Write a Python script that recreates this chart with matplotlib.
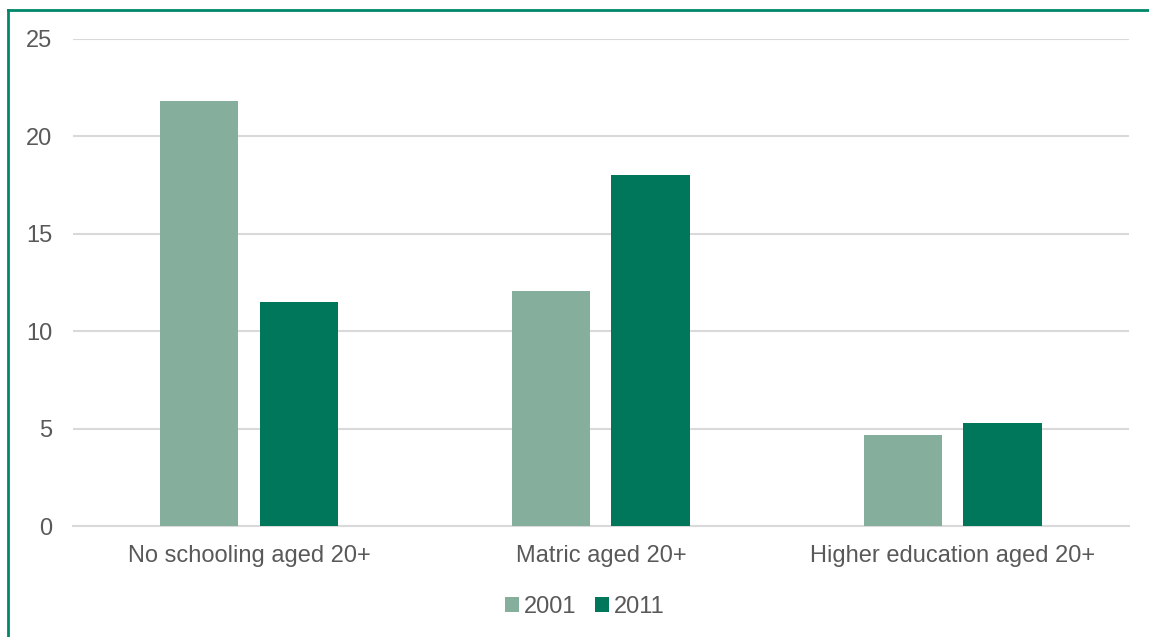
# Grouped bar chart: education levels, 2001 vs 2011
import numpy as np
import matplotlib.pyplot as plt
from matplotlib.lines import Line2D

# Data
categories = ["No schooling aged 20+", "Matric aged 20+", "Higher education aged 20+"]
years = ["2001", "2011"]
values_2001 = [21.8, 12.1, 4.7]
values_2011 = [11.5, 18.0, 5.3]

colors = ["#86AE9C", "#00775A"]
text_color = "#595959"
grid_color = "#D9D9D9"

plt.rcParams["font.family"] = ["Liberation Sans", "DejaVu Sans"]

fig = plt.figure(figsize=(11.49, 6.37), dpi=100)
ax = fig.add_axes([0.0635, 0.1735, 0.919, 0.7653])

x = np.arange(len(categories))
width = 0.224
offset = 0.142
ax.bar(x - offset, values_2001, width, color=colors[0], label=years[0], zorder=3)
ax.bar(x + offset, values_2011, width, color=colors[1], label=years[1], zorder=3)

# Axes styling
ax.set_xlim(-0.5, len(categories) - 0.5)
ax.set_ylim(0, 25)
ax.set_yticks([0, 5, 10, 15, 20, 25])
ax.set_xticks(x)
ax.set_xticklabels(categories)
ax.tick_params(axis="both", length=0, labelsize=17, colors=text_color)
ax.tick_params(axis="y", pad=15)
ax.tick_params(axis="x", pad=13)
ax.yaxis.grid(True, color=grid_color, linewidth=1.5, zorder=0)
for side in ["top", "right", "left"]:
    ax.spines[side].set_visible(False)
ax.spines["bottom"].set_color(grid_color)
ax.spines["bottom"].set_linewidth(1.5)

# Legend with small square handles
ax.legend(loc="center", bbox_to_anchor=(0.509, 0.047), bbox_transform=fig.transFigure,
          ncol=2, frameon=False, fontsize=17, labelcolor=text_color,
          handlelength=0.6, handleheight=0.6, handletextpad=0.2, columnspacing=0.8)

# Green frame (top and left edges visible in the original)
frame_color = "#00876A"
fig.add_artist(Line2D([7.5 / 1149, 1.0], [1 - 9.5 / 637, 1 - 9.5 / 637],
                      transform=fig.transFigure, color=frame_color, linewidth=2))
fig.add_artist(Line2D([7.5 / 1149, 7.5 / 1149], [0.0, 1 - 9.5 / 637],
                      transform=fig.transFigure, color=frame_color, linewidth=2))

fig.savefig("out.png", dpi=100)
